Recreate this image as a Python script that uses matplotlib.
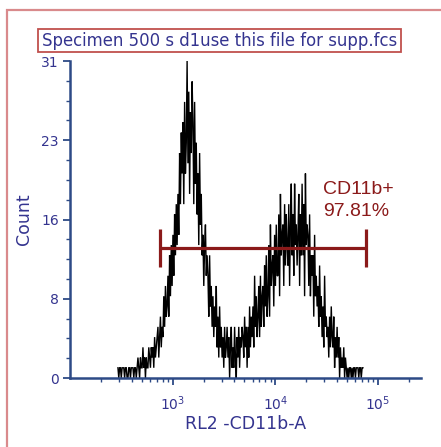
import numpy as np
import matplotlib
matplotlib.use("Agg")
import matplotlib.pyplot as plt
from matplotlib.patches import Rectangle
from matplotlib.ticker import FixedLocator, NullFormatter

# ---- data -------------------------------------------------------------
title = "Specimen 500 s d1use this file for supp.fcs"
x_label = "RL2 -CD11b-A"
y_label = "Count"

# histogram channels (log10 of RL2-A intensity) and their event counts
log_lo, log_hi = 2.467, 4.853
counts = [
    1, 0, 1, 1, 0, 1,     1, 1, 0, 1, 1, 0,     0, 1, 1, 0, 1, 1,
    1, 0, 1, 1, 0, 1,     2, 1, 0, 2, 1, 1,     3, 1, 2, 0, 2, 1,
    1, 3, 2, 1, 3, 2,     3, 1, 4, 2, 3, 4,     5, 2, 4, 6, 3, 5,
    4, 8, 5, 9, 6, 7,     10, 6, 12, 8, 13, 9,  14, 10, 16, 12, 17, 13,
    18, 14, 22, 17, 24, 20,  25, 17, 27, 20, 23, 31,  21, 28, 18, 26, 22, 29,
    25, 17, 27, 19, 23, 16,  20, 13, 22, 15, 18, 12,  14, 9, 13, 15, 10, 12,
    10, 6, 12, 7, 9, 5,   8, 4, 7, 5, 9, 3,     6, 2, 7, 3, 5, 2,
    4, 1, 5, 2, 3, 5,     2, 4, 0, 3, 5, 1,     3, 1, 5, 2, 0, 4,
    2, 5, 1, 4, 3, 5,     4, 2, 6, 3, 5, 1,     5, 2, 7, 3, 6, 4,
    7, 3, 10, 5, 8, 4,    6, 9, 4, 10, 5, 8,    9, 5, 11, 7, 12, 6,
    8, 13, 6, 15, 9, 11,  12, 7, 14, 9, 15, 10,  10, 16, 8, 18, 12, 14,
    15, 9, 17, 11, 16, 13,  11, 17, 9, 15, 19, 12,  16, 10, 19, 13, 15, 11,
    14, 18, 9, 16, 12, 19,  12, 17, 8, 20, 13, 15,  14, 9, 16, 8, 12, 10,
    12, 6, 14, 8, 10, 7,  9, 5, 11, 6, 8, 4,    7, 3, 10, 5, 6, 4,
    5, 2, 6, 3, 7, 4,     3, 6, 1, 4, 2, 5,     2, 4, 0, 3, 1, 2,
    1, 3, 0, 2, 1, 0,     1, 0, 1, 1, 0, 1,     0, 1, 1, 0, 1, 1,
    1, 0, 1, 1, 0, 1,     1,
]

y_ticks = [0, 7.75, 15.5, 23.25, 31]
y_tick_labels = ["0", "8", "16", "23", "31"]
x_ticks = [1e3, 1e4, 1e5]
x_tick_labels = ["$10^{3}$", "$10^{4}$", "$10^{5}$"]

gate_name = "CD11b+"
gate_pct = "97.81%"
gate_lo, gate_hi = 751, 76200
gate_level = 12.7
gate_cap = (10.85, 14.6)

# ---- styling ----------------------------------------------------------
navy = "#34348f"
spine_col = "#2d4a86"
gate_col = "#8b1a1a"
frame_col = "#d98a8c"

plt.rcParams["font.family"] = ["DejaVu Sans"]
plt.rcParams["mathtext.fontset"] = "dejavusans"

W, H = 441, 447
fig = plt.figure(figsize=(W / 100, H / 100), dpi=100)

def fx(px):
    return px / W

def fy(py):
    return 1 - py / H

# outer panel frame
fig.patches.append(Rectangle((fx(7), fy(470)), fx(460), 460 / H,
                             transform=fig.transFigure, fill=False,
                             edgecolor=frame_col, lw=1.6))
# title box
fig.patches.append(Rectangle((fx(38), fy(52)), fx(401 - 38), (52 - 29) / H,
                             transform=fig.transFigure, fill=False,
                             edgecolor="#c0504d", lw=1.3))
fig.text(fx(219.5), fy(41), title, ha="center", va="center",
         fontsize=11.9, color=navy)

ax = fig.add_axes([fx(70), fy(378), fx(421 - 70), (378 - 61) / H])

xs = 10 ** np.linspace(log_lo, log_hi, len(counts))
ax.plot(xs, counts, color="black", lw=1.0, solid_joinstyle="miter")

# gate marker
ax.hlines(gate_level, gate_lo, gate_hi, color=gate_col, lw=2.3)
ax.vlines([gate_lo, gate_hi], gate_cap[0], gate_cap[1], color=gate_col, lw=2.3)
label_x = 10 ** (2 + (323 - 70) / 102.7)
ax.text(label_x, 18.0, gate_name, family="Liberation Sans", fontsize=14,
        color=gate_col, ha="left", va="baseline")
ax.text(label_x, 15.85, gate_pct, family="Liberation Sans", fontsize=14,
        color=gate_col, ha="left", va="baseline")

ax.set_xscale("log")
ax.set_xlim(100, 262144)
ax.set_ylim(0, 31)

for s in ("top", "right"):
    ax.spines[s].set_visible(False)
for s in ("left", "bottom"):
    ax.spines[s].set_color(spine_col)
    ax.spines[s].set_linewidth(1.8)

ax.set_yticks(y_ticks)
ax.set_yticklabels(y_tick_labels)
ax.yaxis.set_minor_locator(FixedLocator(
    [v * 31 / 16 for v in range(1, 16) if v % 4]))
ax.set_xticks(x_ticks)
ax.set_xticklabels(x_tick_labels)
ax.xaxis.set_minor_locator(FixedLocator(
    [m * 10 ** d for d in (2, 3, 4, 5) for m in range(2, 10) if m * 10 ** d < 262144]))
ax.xaxis.set_minor_formatter(NullFormatter())

ax.tick_params(axis="both", which="major", direction="out", length=5,
               width=1.3, color=spine_col, labelcolor=navy, labelsize=10)
ax.tick_params(axis="both", which="minor", direction="out", length=3,
               width=1.0, color=spine_col)
ax.tick_params(axis="x", which="major", pad=7)
ax.tick_params(axis="y", which="major", pad=3)

ax.set_xlabel(x_label, fontsize=12.5, color=navy, labelpad=1)
ax.set_ylabel(y_label, fontsize=12.5, color=navy, labelpad=6)

fig.savefig("out.png", dpi=100)
